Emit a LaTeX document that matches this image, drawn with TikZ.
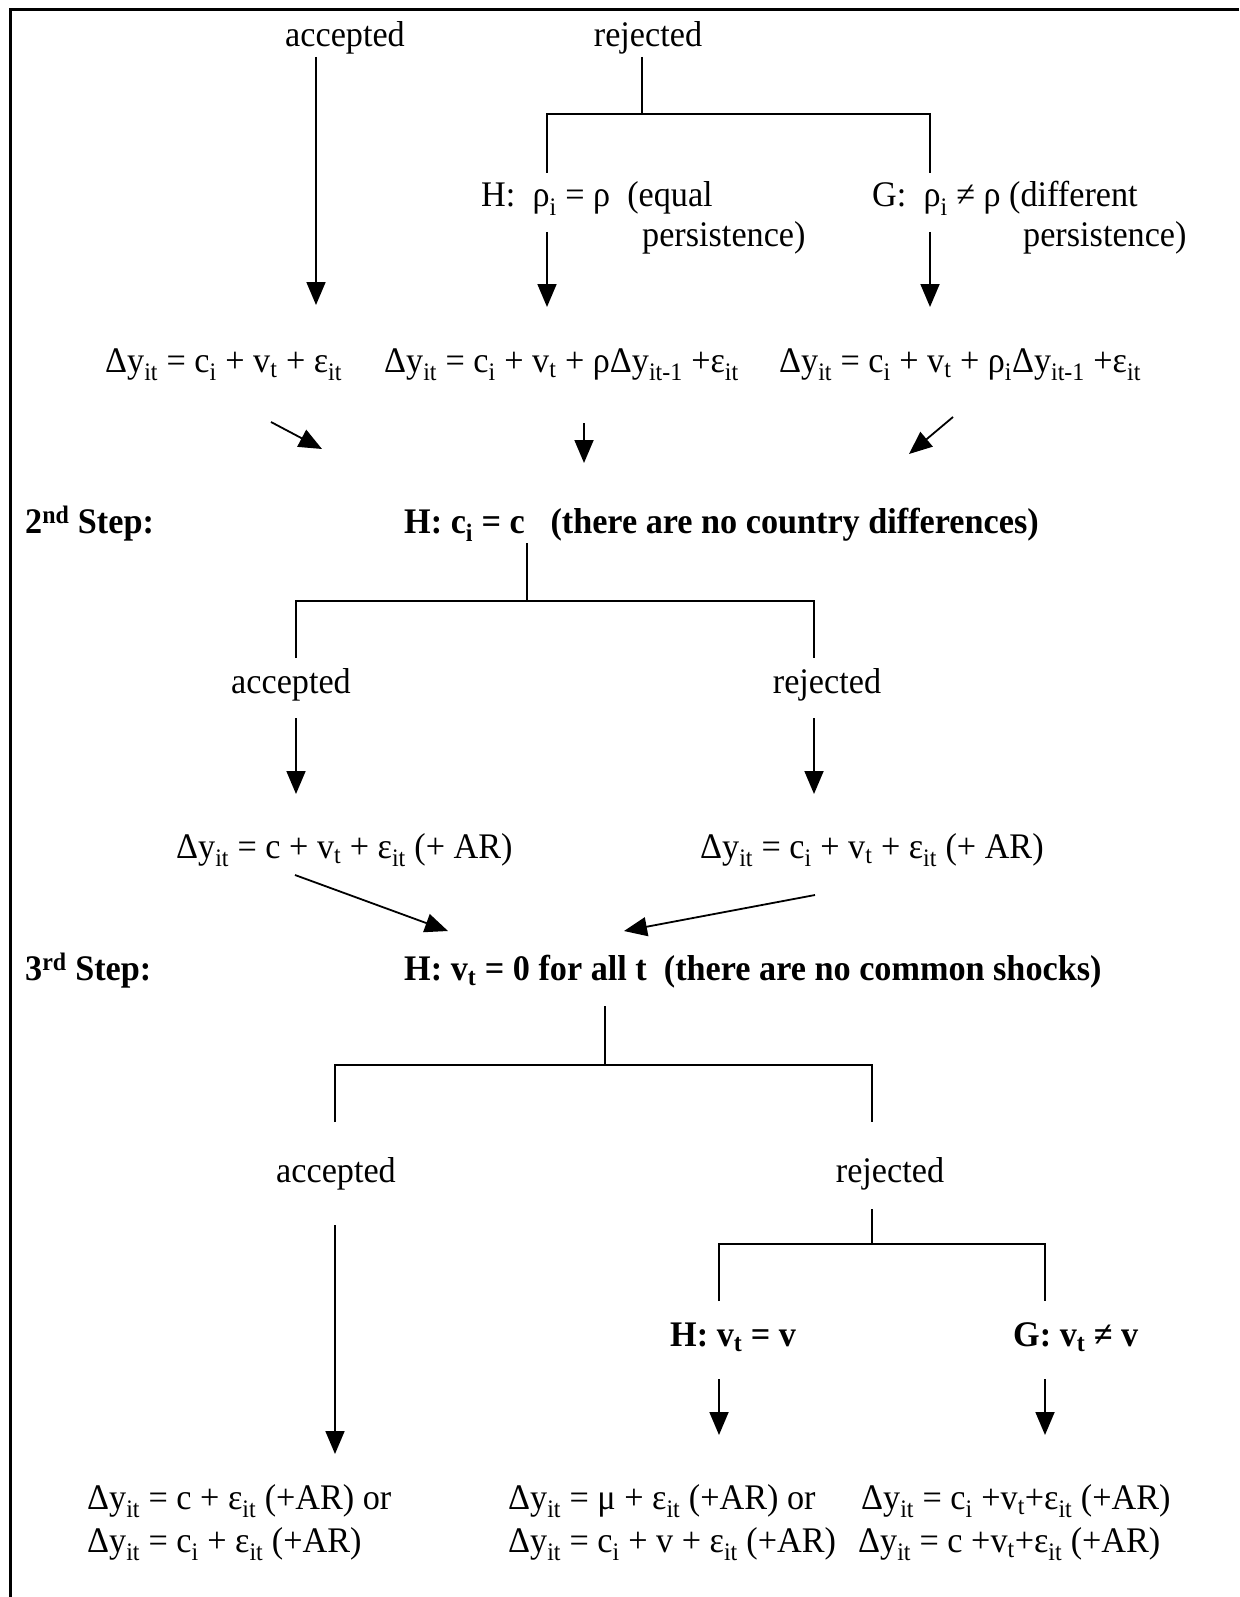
\documentclass[tikz,border=0pt]{standalone}
\usepackage{fontspec}
\setmainfont{Liberation Serif}[FakeStretch=0.95]
\usetikzlibrary{arrows.meta}
\newcommand\sbx[1]{\textsubscript{#1}}
\begin{document}
\begin{tikzpicture}[x=1pt,y=-1pt,
  txt/.style={inner sep=0pt, font=\fontsize{36}{40}\selectfont},
  btxt/.style={inner sep=0pt, font=\fontsize{36}{40}\selectfont\bfseries},
  lw/.style={anchor=base west},
  lc/.style={anchor=base},
  conn/.style={line width=1.8pt},
  arr/.style={line width=1.8pt, -{Triangle[length=23pt,width=19pt]}},
  frame/.style={line width=3pt}]
\useasboundingbox (0,0) rectangle (1239,1597);
% frame
\coordinate (fTR) at (1239,10);
\coordinate (fTL) at (10,10);
\coordinate (fBL) at (10,1597);
\draw[frame] (fTR) -- (fTL) -- (fBL);

% ---------- first step ----------
\node[txt,lc] (acc1) at (345,47) {accepted};
\node[txt,lc] (rej1) at (648,47) {rejected};
\node[txt,lw] (h1) at (481,207) {H:~~ρ\sbx{i} = ρ~~(equal};
\node[txt,lw] (h1b) at (642,247) {persistence)};
\node[txt,lw] (g1) at (872,207) {G:~~ρ\sbx{i} ≠ ρ (different};
\node[txt,lw] (g1b) at (1023,247) {persistence)};

\node[txt,lw] (e1) at (105,372) {Δy\sbx{it} = c\sbx{i} + v\sbx{t} + ε\sbx{it}};
\node[txt,lw] (e2) at (384,372) {Δy\sbx{it} = c\sbx{i} + v\sbx{t} + ρΔy\sbx{it-1} +ε\sbx{it}};
\node[txt,lw] (e3) at (779,372) {Δy\sbx{it} = c\sbx{i} + v\sbx{t} + ρ\sbx{i}Δy\sbx{it-1} +ε\sbx{it}};

\coordinate (a1s) at (316,57);  \coordinate (a1e) at (316,305);
\coordinate (r1s) at (642,57);  \coordinate (r1j) at (642,114);
\coordinate (r1l) at (547,114); \coordinate (r1r) at (930,114);
\coordinate (r1ld) at (547,173); \coordinate (r1rd) at (930,173);
\coordinate (h1s) at (547,232); \coordinate (h1e) at (547,307);
\coordinate (g1s) at (930,232); \coordinate (g1e) at (930,307);
\draw[arr] (a1s) -- (a1e);
\draw[conn] (r1s) -- (r1j);
\draw[conn] (r1ld) -- (r1l) -- (r1r) -- (r1rd);
\draw[arr] (h1s) -- (h1e);
\draw[arr] (g1s) -- (g1e);

\coordinate (d1s) at (271,422); \coordinate (d1e) at (322,449);
\coordinate (d2s) at (584,423); \coordinate (d2e) at (584,463);
\coordinate (d3s) at (953,417); \coordinate (d3e) at (909,454);
\draw[arr] (d1s) -- (d1e);
\draw[arr] (d2s) -- (d2e);
\draw[arr] (d3s) -- (d3e);

% ---------- second step ----------
\node[btxt,lw] (s2) at (25,533) {2\textsuperscript{nd} Step:};
\node[btxt,lw] (hc) at (404,533) {H: c\sbx{i} = c~~~(there are no country differences)};

\coordinate (t2s) at (527,543); \coordinate (t2j) at (527,601);
\coordinate (t2l) at (296,601); \coordinate (t2r) at (814,601);
\coordinate (t2ld) at (296,658); \coordinate (t2rd) at (814,658);
\draw[conn] (t2s) -- (t2j);
\draw[conn] (t2ld) -- (t2l) -- (t2r) -- (t2rd);

\node[txt,lc] (acc2) at (291,693) {accepted};
\node[txt,lc] (rej2) at (827,693) {rejected};
\coordinate (a2s) at (296,718); \coordinate (a2e) at (296,794);
\coordinate (b2s) at (814,718); \coordinate (b2e) at (814,794);
\draw[arr] (a2s) -- (a2e);
\draw[arr] (b2s) -- (b2e);

\node[txt,lw] (e4) at (176,858) {Δy\sbx{it} = c + v\sbx{t} + ε\sbx{it} (+ AR)};
\node[txt,lw] (e5) at (700,858) {Δy\sbx{it} = c\sbx{i} + v\sbx{t} + ε\sbx{it} (+ AR)};

\coordinate (d4s) at (295,875); \coordinate (d4e) at (448,931);
\coordinate (d5s) at (815,895); \coordinate (d5e) at (624,931);
\draw[arr] (d4s) -- (d4e);
\draw[arr] (d5s) -- (d5e);

% ---------- third step ----------
\node[btxt,lw] (s3) at (25,980) {3\textsuperscript{rd} Step:};
\node[btxt,lw] (hv) at (404,980) {H: v\sbx{t} = 0 for all t~~(there are no common shocks)};

\coordinate (t3s) at (605,1006); \coordinate (t3j) at (605,1065);
\coordinate (t3l) at (335,1065); \coordinate (t3r) at (872,1065);
\coordinate (t3ld) at (335,1122); \coordinate (t3rd) at (872,1122);
\draw[conn] (t3s) -- (t3j);
\draw[conn] (t3ld) -- (t3l) -- (t3r) -- (t3rd);

\node[txt,lc] (acc3) at (336,1182) {accepted};
\node[txt,lc] (rej3) at (890,1182) {rejected};

\coordinate (a3s) at (335,1225); \coordinate (a3e) at (335,1454);
\draw[arr] (a3s) -- (a3e);

\coordinate (t4s) at (872,1209); \coordinate (t4j) at (872,1244);
\coordinate (t4l) at (719,1244); \coordinate (t4r) at (1045,1244);
\coordinate (t4ld) at (719,1301); \coordinate (t4rd) at (1045,1301);
\draw[conn] (t4s) -- (t4j);
\draw[conn] (t4ld) -- (t4l) -- (t4r) -- (t4rd);

\node[btxt,lw] (hv2) at (670,1346) {H: v\sbx{t} = v};
\node[btxt,lw] (gv2) at (1013,1346) {G: v\sbx{t} ≠ v};

\coordinate (a4s) at (719,1379); \coordinate (a4e) at (719,1435);
\coordinate (b4s) at (1045,1379); \coordinate (b4e) at (1045,1435);
\draw[arr] (a4s) -- (a4e);
\draw[arr] (b4s) -- (b4e);

\node[txt,lw] (f1) at (87,1509) {Δy\sbx{it} = c + ε\sbx{it} (+AR) or};
\node[txt,lw] (f2) at (87,1552) {Δy\sbx{it} = c\sbx{i} + ε\sbx{it} (+AR)};
\node[txt,lw] (f3) at (508,1509) {Δy\sbx{it} = μ + ε\sbx{it} (+AR) or};
\node[txt,lw] (f4) at (508,1552) {Δy\sbx{it} = c\sbx{i} + v + ε\sbx{it} (+AR)};
\node[txt,lw] (f5) at (861,1509) {Δy\sbx{it} = c\sbx{i} +v\sbx{t}+ε\sbx{it} (+AR)};
\node[txt,lw] (f6) at (858,1552) {Δy\sbx{it} = c +v\sbx{t}+ε\sbx{it} (+AR)};
\end{tikzpicture}
\end{document}
